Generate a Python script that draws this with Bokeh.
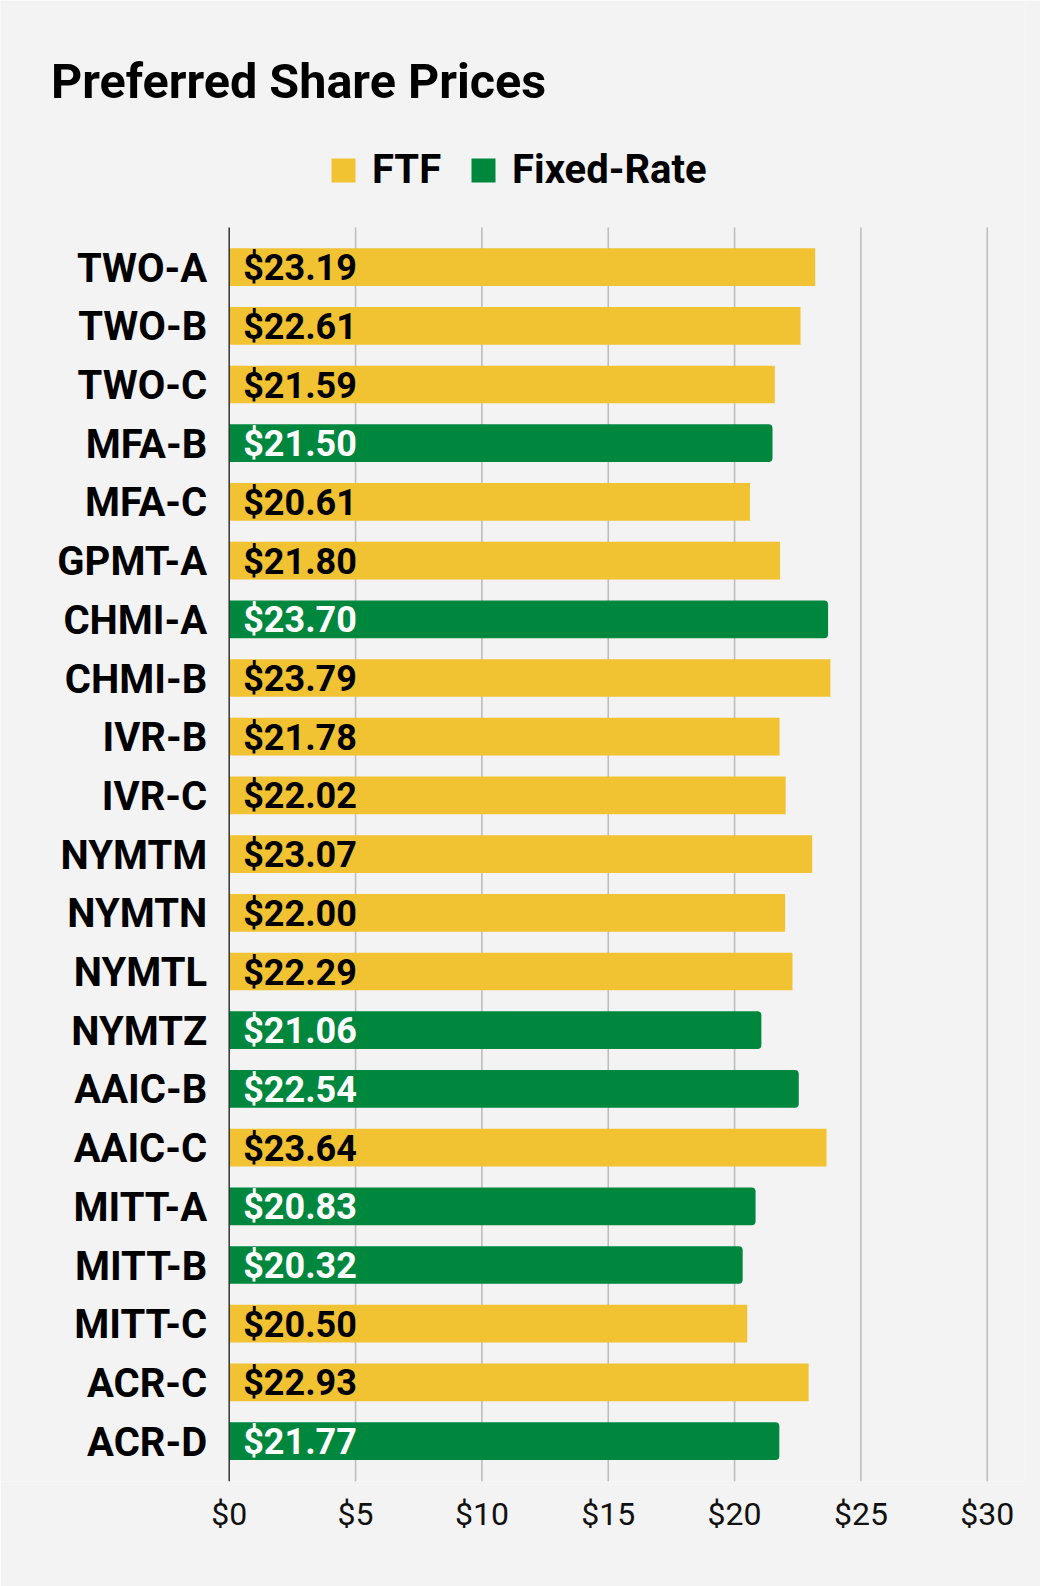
from bokeh.plotting import figure
from bokeh.models import (Range1d, FixedTicker, PrintfTickFormatter, ColumnDataSource,
                          Label, Legend, LegendItem)
from bokeh.core.properties import value
from bokeh.embed import file_html
from bokeh.resources import INLINE

tickers = ["TWO-A", "TWO-B", "TWO-C", "MFA-B", "MFA-C", "GPMT-A", "CHMI-A", "CHMI-B",
           "IVR-B", "IVR-C", "NYMTM", "NYMTN", "NYMTL", "NYMTZ", "AAIC-B", "AAIC-C",
           "MITT-A", "MITT-B", "MITT-C", "ACR-C", "ACR-D"]
prices = [23.19, 22.61, 21.59, 21.50, 20.61, 21.80, 23.70, 23.79, 21.78, 22.02, 23.07,
          22.00, 22.29, 21.06, 22.54, 23.64, 20.83, 20.32, 20.50, 22.93, 21.77]
types = ["FTF", "FTF", "FTF", "Fixed-Rate", "FTF", "FTF", "Fixed-Rate", "FTF", "FTF", "FTF",
         "FTF", "FTF", "FTF", "Fixed-Rate", "Fixed-Rate", "FTF", "Fixed-Rate", "Fixed-Rate",
         "FTF", "FTF", "Fixed-Rate"]
x_ticks = [0, 5, 10, 15, 20, 25, 30]
title_text = "Preferred Share Prices"

YELLOW = "#F1C232"
GREEN = "#00873E"
BG = "#F3F3F3"
FONT = "Roboto"

idx = list(range(len(tickers)))
PLOT_TOP = -0.675      # top edge of the plotting area (in category units)
PLOT_BOTTOM = 20.688   # bottom edge of the plotting area

def subset(kind):
    ii = [i for i in idx if types[i] == kind]
    return ColumnDataSource(dict(
        y=ii,
        x=[prices[i] for i in ii],
        label=["$%.2f" % prices[i] for i in ii],
    ))

src_ftf = subset("FTF")
src_fix = subset("Fixed-Rate")

p = figure(width=1040, height=1586, output_backend="svg", toolbar_location=None,
           x_range=Range1d(-9.050, 31.512), y_range=Range1d(PLOT_BOTTOM, -4.542),
           min_border_left=0, min_border_right=15, min_border_top=0, min_border_bottom=105,
           background_fill_color=BG, border_fill_color=BG, outline_line_color=None)

# vertical grid lines
grid_src = ColumnDataSource(dict(x=x_ticks[1:],
                                 y0=[PLOT_TOP] * (len(x_ticks) - 1),
                                 y1=[PLOT_BOTTOM] * (len(x_ticks) - 1)))
p.segment(x0="x", y0="y0", x1="x", y1="y1", source=grid_src,
          line_color="#BDBDBD", line_width=1.6)

r_ftf = p.hbar(y="y", right="x", left=0, height=0.642, source=src_ftf,
               fill_color=YELLOW, line_color=None)
r_fix = p.hbar(y="y", right="x", left=0, height=0.642, source=src_fix,
               fill_color=GREEN, line_color=None, border_radius=(0, 4, 4, 0))

# vertical axis line at x = 0
p.segment(x0=[x_ticks[0]], y0=[PLOT_TOP], x1=[x_ticks[0]], y1=[PLOT_BOTTOM],
          line_color="#333333", line_width=1.5)

# value labels
p.text(x=0, y="y", text="label", source=src_ftf, x_offset=14, y_offset=1,
       text_font=value(FONT), text_font_style="bold", text_font_size="36px",
       text_color="#000000", text_baseline="middle", text_align="left")
p.text(x=0, y="y", text="label", source=src_fix, x_offset=14, y_offset=1,
       text_font=value(FONT), text_font_style="bold", text_font_size="36px",
       text_color="#FFFFFF", text_baseline="middle", text_align="left")

# category labels
cat_src = ColumnDataSource(dict(y=idx, name=tickers))
p.text(x=0, y="y", text="name", source=cat_src, x_offset=-22, y_offset=1,
       text_font=value(FONT), text_font_style="bold", text_font_size="40px",
       text_color="#000000", text_baseline="middle", text_align="right")

# x axis
p.xaxis.ticker = FixedTicker(ticks=x_ticks)
p.xaxis.formatter = PrintfTickFormatter(format="$%d")
p.xaxis.axis_line_color = None
p.xaxis.major_tick_line_color = None
p.xaxis.minor_tick_line_color = None
p.xaxis.major_label_standoff = 7
p.xaxis.major_label_text_font = FONT
p.xaxis.major_label_text_font_size = "32px"
p.xaxis.major_label_text_color = "#111111"

p.yaxis.visible = False
p.xgrid.visible = False
p.ygrid.visible = False

# title
p.add_layout(Label(x=50.5, y=1400, x_units="screen", y_units="screen",
                   text=title_text, text_font=FONT, text_font_style="bold",
                   text_font_size="48.5px", text_color="#000000",
                   text_baseline="alphabetic", text_align="left"))

legend = Legend(items=[LegendItem(label="FTF", renderers=[r_ftf]),
                       LegendItem(label="Fixed-Rate", renderers=[r_fix])],
                orientation="horizontal", location=(328, 1288),
                glyph_width=30, glyph_height=30, label_standoff=14, spacing=27,
                padding=0, margin=0, border_line_color=None, background_fill_alpha=0,
                label_text_font=FONT, label_text_font_style="bold",
                label_text_font_size="40px", label_text_color="#000000")
p.add_layout(legend, "center")

open("out.html", "w").write(file_html(p, INLINE))
